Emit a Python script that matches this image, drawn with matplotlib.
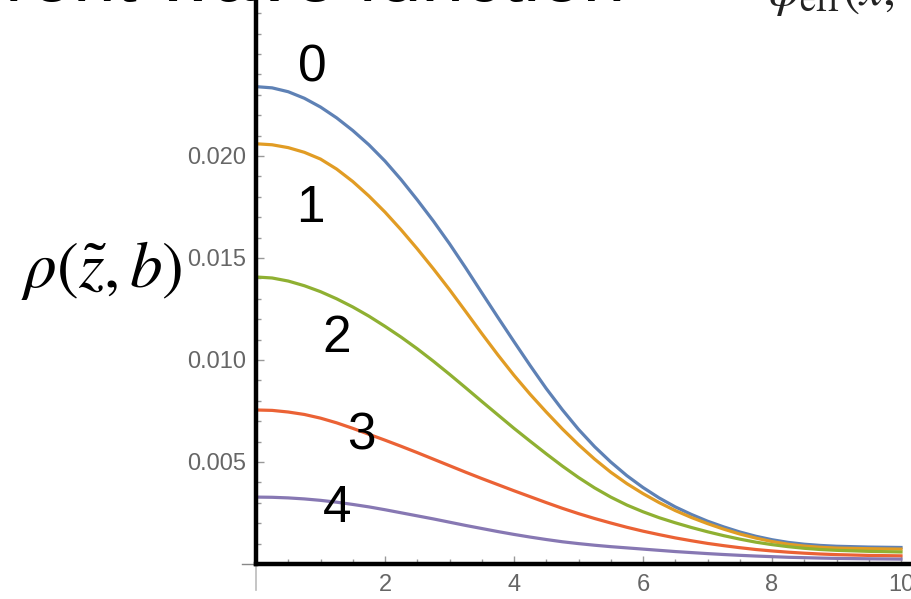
import numpy as np
import matplotlib
matplotlib.use('Agg')
import matplotlib.pyplot as plt
from matplotlib.ticker import MultipleLocator, FixedLocator

plt.rcParams['mathtext.fontset'] = 'stix'

# sample positions along z~
z = [0, 0.25, 0.5, 0.75, 1, 1.25, 1.5, 1.75, 2, 2.25, 2.5, 2.75, 3, 3.25, 3.5, 3.75,
     4, 4.25, 4.5, 4.75, 5, 5.25, 5.5, 5.75, 6, 6.25, 6.5, 6.75, 7, 7.25, 7.5, 7.75,
     8, 8.25, 8.5, 8.75, 9, 9.5, 10]

# densities (units of 1e-3)
rho_0 = [23.4, 23.34, 23.15, 22.83, 22.4, 21.87, 21.25, 20.55, 19.75, 18.84, 17.85, 16.81,
         15.7, 14.52, 13.3, 12.09, 10.9, 9.73, 8.6, 7.56, 6.6, 5.75, 5.0, 4.33,
         3.75, 3.24, 2.8, 2.43, 2.1, 1.82, 1.57, 1.36, 1.19, 1.06, 0.97, 0.91,
         0.87, 0.83, 0.81]
rho_1 = [20.6, 20.55, 20.41, 20.18, 19.85, 19.36, 18.75, 18.04, 17.25, 16.38, 15.45, 14.47,
         13.45, 12.38, 11.3, 10.25, 9.25, 8.32, 7.45, 6.62, 5.85, 5.14, 4.5, 3.94,
         3.45, 3.01, 2.62, 2.28, 1.98, 1.71, 1.47, 1.27, 1.1, 0.97, 0.88, 0.82,
         0.78, 0.75, 0.73]
rho_2 = [14.07, 14.02, 13.87, 13.64, 13.35, 13.0, 12.6, 12.15, 11.65, 11.12, 10.55, 9.94,
         9.3, 8.64, 7.97, 7.31, 6.65, 6.02, 5.4, 4.8, 4.24, 3.73, 3.28, 2.89,
         2.56, 2.27, 2.02, 1.79, 1.58, 1.39, 1.22, 1.07, 0.95, 0.85, 0.77, 0.71,
         0.67, 0.62, 0.59]
rho_3 = [7.55, 7.53, 7.45, 7.33, 7.15, 6.92, 6.65, 6.36, 6.07, 5.77, 5.46, 5.14,
         4.82, 4.5, 4.19, 3.89, 3.59, 3.3, 3.01, 2.73, 2.47, 2.23, 2.01, 1.8,
         1.61, 1.44, 1.28, 1.14, 1.01, 0.9, 0.8, 0.71, 0.64, 0.58, 0.53, 0.49,
         0.46, 0.42, 0.4]
rho_4 = [3.28, 3.27, 3.24, 3.19, 3.12, 3.03, 2.92, 2.8, 2.66, 2.51, 2.36, 2.21,
         2.05, 1.89, 1.74, 1.59, 1.45, 1.32, 1.2, 1.09, 1.0, 0.92, 0.85, 0.79,
         0.73, 0.67, 0.61, 0.56, 0.51, 0.465, 0.425, 0.39, 0.36, 0.33, 0.31, 0.29,
         0.275, 0.255, 0.24]

series = [rho_0, rho_1, rho_2, rho_3, rho_4]
colors = ['#5E81B5', '#E19C24', '#8FB032', '#EB6235', '#8778B3']

# curve labels and where they sit (data coords)
labels = ['0', '1', '2', '3', '4']
label_pos = [(0.87, 0.02430), (0.84, 0.01745), (1.25, 0.01105), (1.64, 0.00628), (1.25, 0.00272)]

fig = plt.figure(figsize=(9.11, 5.99), dpi=100)
ax = fig.add_axes([256 / 911, 35 / 599, 655 / 911, 564 / 599])

for vals, c in zip(series, colors):
    ax.plot(z, np.array(vals) * 1e-3, color=c, lw=2.3, solid_joinstyle='round', zorder=3)

for lab, (lx, ly) in zip(labels, label_pos):
    ax.text(lx, ly, lab, fontsize=37, ha='center', va='center',
            family=['Liberation Sans', 'DejaVu Sans'], zorder=4)

ax.set_xlim(0, 655 / 64.5)
ax.set_ylim(0, 564 / 20400)

ax.xaxis.set_major_locator(FixedLocator([2, 4, 6, 8, 10]))
ax.xaxis.set_minor_locator(MultipleLocator(0.5))
ax.yaxis.set_major_locator(FixedLocator([0.005, 0.010, 0.015, 0.020]))
ax.yaxis.set_minor_locator(MultipleLocator(0.001))
ax.set_yticklabels(['0.005', '0.010', '0.015', '0.020'])
ax.set_xticklabels(['2', '4', '6', '8', '10'])

for s in ['top', 'right']:
    ax.spines[s].set_visible(False)
for s in ['left', 'bottom']:
    ax.spines[s].set_linewidth(3.2)
    ax.spines[s].set_color('black')
    ax.spines[s].set_zorder(5)

ax.tick_params(which='both', direction='in', color='#999999', width=1.0,
               labelcolor='#666666', labelsize=17, pad=7)
ax.tick_params(which='major', length=6)
ax.tick_params(which='minor', length=3.5)
for t in ax.get_xticklabels() + ax.get_yticklabels():
    t.set_family(['Liberation Sans', 'DejaVu Sans'])

# stub of the original axes poking out below/left of the origin
ax.plot([0, 0], [0, -0.00125], color='#bbbbbb', lw=1.2, clip_on=False, zorder=1)
ax.plot([-0.22, 0], [0, 0], color='#888888', lw=1.0, clip_on=False, zorder=1)

# y label
fig.text(102 / 911, 1 - 270 / 599, r'$\rho(\tilde{z},b)$', fontsize=47,
         ha='center', va='center')

# pieces of the slide text cut off at the top
fig.text(625 / 911, 1 - 1 / 599, 'Light-front wave function', fontsize=55,
         ha='right', va='baseline', family=['Liberation Sans', 'DejaVu Sans'])
fig.text(768 / 911, 1 - 5 / 599, r'$\varphi_{\mathrm{eff}}(x,$', fontsize=37,
         ha='left', va='baseline', color='#222222')

fig.savefig('out.png', dpi=100)
